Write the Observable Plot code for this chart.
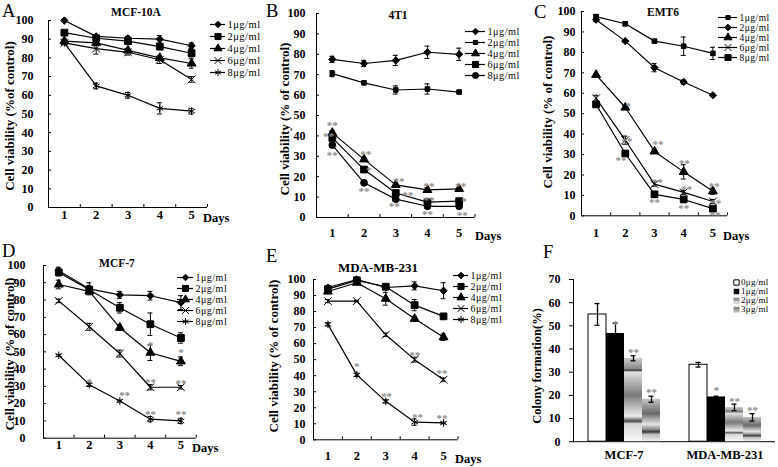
<!DOCTYPE html>
<html><head><meta charset="utf-8">
<script src="https://cdn.jsdelivr.net/npm/d3@7"></script>
<script src="https://cdn.jsdelivr.net/npm/@observablehq/plot@0.6"></script>
<style>
body{margin:0;background:#fff;}
#fig{position:relative;width:778px;height:467px;overflow:hidden;background:#fff;}
</style></head><body><div id="fig"></div>
<script>
// ---------- DATA ----------
const days = [1, 2, 3, 4, 5];
const dayBoundaries = [1.5, 2.5, 3.5, 4.5, 5.5];
const doseLabels = ["1μg/ml", "2μg/ml", "4μg/ml", "6μg/ml", "8μg/ml"];
const viabilityTicks = [0, 10, 20, 30, 40, 50, 60, 70, 80, 90, 100];

// A: MCF-10A
const mcf10a_1 = [100, 91.5, 90.5, 90, 86.5];
const mcf10a_2 = [93.5, 90.5, 89, 86, 82.5];
const mcf10a_4 = [89, 88, 84, 80, 77];
const mcf10a_6 = [88, 85, 83, 79, 68.5];
const mcf10a_8 = [88, 65, 60, 53, 51.5];
const mcf10a_1e = [0.5, 1, 1, 2, 1.5];
const mcf10a_2e = [0.5, 1, 1, 1, 2];
const mcf10a_4e = [1, 1, 1, 1, 2.5];
const mcf10a_6e = [1, 3, 1.5, 2, 1.5];
const mcf10a_8e = [0.5, 1.5, 1.5, 3, 1.5];

// B: 4T1
const t41_1 = [77.5, 75.5, 77, 81, 80];
const t41_2 = [70.5, 66, 62.5, 63, 61.5];
const t41_4 = [41.5, 28.5, 16, 13.5, 14];
const t41_6 = [39, 23.5, 12, 7.5, 8];
const t41_8 = [35.5, 17, 9, 5.5, 5.5];
const t41_1e = [1.5, 1.5, 2.5, 3, 3];
const t41_2e = [1.5, 0.5, 2, 2.5, 0.5];
const t41_4e = [1, 1, 1, 1, 0.5];
const t41_6e = [1, 1, 1, 1, 1];
const t41_8e = [1, 1, 1, 1, 1];
const t41_stars = [[1, 46.5, "**"], [0.88, 41, "**"], [1, 31.5, "**"], [2.05, 32, "**"], [2.15, 24.5, "*"], [2, 14, "**"],
  [3.1, 19, "**"], [3.38, 12, "**"], [2.95, 6.5, "**"], [4.05, 16.5, "**"], [4.05, 9.5, "**"], [4, 2.5, "**"],
  [5.05, 16.5, "**"], [5.15, 9, "*"], [5.1, 2, "**"]];

// C: EMT6
const emt6_1 = [97.5, 94, 85.5, 83, 79.5];
const emt6_2 = [96, 85.5, 72.5, 65.5, 59];
const emt6_4 = [69, 53, 31.5, 21.5, 12];
const emt6_6 = [57.5, 37, 15.5, 11.5, 7];
const emt6_8 = [54.5, 30.5, 10.5, 8, 3.5];
const emt6_1e = [1, 1, 0.5, 4.5, 3];
const emt6_2e = [1, 0.5, 2, 1, 0.5];
const emt6_4e = [0.5, 1, 1, 3.5, 1.5];
const emt6_6e = [1.5, 2, 1, 1, 1];
const emt6_8e = [1, 1, 1, 1, 1];
const emt6_stars = [[2.1, 54.6, "*"], [2.06, 37.8, "**"], [1.85, 28.5, "**"], [3.12, 36.2, "**"], [3.1, 17.5, "**"], [3, 7.7, "**"],
  [4.02, 26.8, "**"], [4.1, 14.2, "**"], [4, 4.9, "**"], [5.05, 15.8, "**"], [5.1, 7.3, "**"], [5.08, 1.6, "**"]];

// D: MCF-7
const mcf7_1 = [97, 86.5, 83, 82.5, 78.5];
const mcf7_2 = [96, 86, 75.5, 66, 58];
const mcf7_4 = [89, 85, 64, 49.5, 44.5];
const mcf7_6 = [79.5, 64.5, 49, 29.5, 29.5];
const mcf7_8 = [48, 31, 21.5, 11, 10];
const mcf7_1e = [2, 3.5, 2, 2.5, 4];
const mcf7_2e = [2, 2.5, 3, 6.5, 3];
const mcf7_4e = [2.5, 1, 1.5, 4.5, 2.5];
const mcf7_6e = [1, 2, 2, 1.5, 1];
const mcf7_8e = [0.5, 1, 0.5, 1.5, 1.5];
const mcf7_stars = [[2, 34, "*"], [3.15, 26.3, "**"], [4, 55.2, "*"], [4, 34, "**"], [4, 15, "**"],
  [5, 50.8, "*"], [5, 33, "**"], [5, 15, "**"]];

// E: MDA-MB-231
const mda_1 = [95, 100, 95, 96, 93];
const mda_2 = [94, 99.5, 95.5, 84, 77];
const mda_4 = [92.5, 98, 88, 75.5, 64];
const mda_6 = [86.5, 86.5, 65.5, 50, 37.5];
const mda_8 = [72, 40.5, 24, 11, 10.5];
const mda_1e = [1, 1, 1, 2.5, 5];
const mda_2e = [1, 0.5, 1, 3.5, 0.5];
const mda_4e = [1, 1, 4, 1.5, 2];
const mda_6e = [1, 0.5, 1, 1.5, 1];
const mda_8e = [1, 1, 1, 2, 0.5];
const mda_stars = [[2, 47, "*"], [3.03, 28.3, "**"], [4, 54.3, "**"], [4.1, 15.6, "**"], [4.95, 43, "**"], [4.95, 14.8, "**"]];

// F: colony formation
const colonyLines = ["MCF-7", "MDA-MB-231"];
const colonyDoses = ["0μg/ml", "1μg/ml", "2μg/ml", "3μg/ml"];
const colonyMCF7 = [54.9, 46.7, 36, 18.3];
const colonyMCF7Err = [4.7, 4.5, 1.1, 1.3];
const colonyMDA = [33.2, 19.3, 14.8, 10.5];
const colonyMDAErr = [1, 0.3, 1.4, 1.6];
const colonyTicks = [0, 10, 20, 30, 40, 50, 60, 70];
const colonyStars = [["MCF-7", "1μg/ml", 51.5, "*"], ["MCF-7", "2μg/ml", 39.5, "**"], ["MCF-7", "3μg/ml", 22.3, "**"],
  ["MDA-MB-231", "1μg/ml", 23, "*"], ["MDA-MB-231", "2μg/ml", 18.5, "**"], ["MDA-MB-231", "3μg/ml", 14.5, "**"]];

// ---------- STYLES ----------
const SERIF = "'Liberation Serif','Times New Roman',Times,serif";
const diamondSym = {draw(c, size) { const h = Math.sqrt(size / 2); c.moveTo(0, -h); c.lineTo(h, 0); c.lineTo(0, h); c.lineTo(-h, 0); c.closePath(); }};
const MARK = {
  diamond: {symbol: diamondSym, r: 2.9},
  square: {symbol: "square", r: 3.8},
  smallSquare: {symbol: "square", r: 2.6},
  triangle: {symbol: "triangle", r: 3.3},
  cross: {symbol: "times", r: 3.6},
  star: {symbol: "asterisk", r: 3.6},
  circle: {symbol: "circle", r: 3.4}
};
const fig = document.getElementById("fig");
function place(node, x, y) {
  node.style.position = "absolute"; node.style.left = x + "px"; node.style.top = y + "px";
  node.style.maxWidth = "none";
  node.style.width = node.getAttribute("width") + "px"; node.style.height = node.getAttribute("height") + "px";
  fig.appendChild(node);
}

// ---------- LINE PANELS ----------
function linePanel(p) {
  const mL = 45, mR = 10, mT = 10, mB = 30;
  const fw = p.right - p.left, fh = p.y0 - p.y100;
  const cap = 2.5 / (fw / 5);
  const marks = [
    Plot.ruleX([0.5], {stroke: "#000", strokeWidth: 1}),
    Plot.ruleY([0], {stroke: "#000", strokeWidth: 1}),
    Plot.tickY(viabilityTicks, {y: d => d, insetRight: fw - 3, stroke: "#000"}),
    Plot.tickX(dayBoundaries, {x: d => d, insetTop: fh - 3, stroke: "#000"}),
    Plot.text(viabilityTicks, {y: d => d, frameAnchor: "left", dx: -p.labelGap, textAnchor: "end", text: d => String(d), fontSize: 12, fontWeight: "bold"}),
    Plot.text(days, {x: d => d, frameAnchor: "bottom", dy: p.xLabelDy, text: d => String(d), fontSize: 12.5, fontWeight: "bold"})
  ];
  p.series.forEach(s => {
    const rows = days.map((d, j) => ({day: d, v: s.values[j], e: s.err[j]}));
    marks.push(Plot.line(rows, {x: "day", y: "v", stroke: "#000", strokeWidth: 1.2}));
    marks.push(Plot.ruleX(rows, {x: "day", y1: d => d.v - d.e, y2: d => d.v + d.e, stroke: "#000", strokeWidth: 1}));
    marks.push(Plot.ruleY(rows, {y: d => d.v + d.e, x1: d => d.day - cap, x2: d => d.day + cap, stroke: "#000", strokeWidth: 1}));
    marks.push(Plot.ruleY(rows, {y: d => d.v - d.e, x1: d => d.day - cap, x2: d => d.day + cap, stroke: "#000", strokeWidth: 1}));
    marks.push(Plot.dot(rows, {x: "day", y: "v", symbol: s.mark.symbol, r: s.mark.r, fill: "#000", stroke: "#000", strokeWidth: 1}));
  });
  if (p.stars) marks.push(Plot.text(p.stars, {x: d => d[0], y: d => d[1], text: d => d[2], fill: "#8a8a8a", fontSize: 11, fontWeight: "bold", dy: 2.5}));
  const svg = Plot.plot({
    width: fw + mL + mR, height: fh + mT + mB,
    marginLeft: mL, marginRight: mR, marginTop: mT, marginBottom: mB,
    x: {domain: [0.5, 5.5], axis: null},
    y: {domain: [0, 100], axis: null},
    style: {fontFamily: SERIF, background: "none", overflow: "visible"},
    marks
  });
  place(svg, p.left - mL, p.y100 - mT);
}

function legendPanel(p) {
  const n = p.labels.length, W = 70, H = (n - 1) * p.spacing + 12;
  const marks = [];
  p.labels.forEach((lab, i) => {
    const row = [lab];
    marks.push(Plot.ruleY(row, {y: d => d, x1: 0, x2: p.lineLen, stroke: "#000", strokeWidth: 1.2}));
    const m = p.marks[i];
    marks.push(Plot.dot(row, {x: p.lineLen / 2, y: d => d, symbol: m.symbol, r: m.r * 0.9, fill: "#000", stroke: "#000", strokeWidth: 1}));
  });
  marks.push(Plot.text(p.labels, {x: p.lineLen + 2, y: d => d, text: d => d, textAnchor: "start", fontSize: p.fontSize}));
  const svg = Plot.plot({
    width: W, height: H, margin: 0,
    x: {domain: [0, W], range: [0, W], axis: null},
    y: {type: "point", domain: p.labels, range: [6, 6 + (n - 1) * p.spacing], padding: 0, axis: null},
    style: {fontFamily: SERIF, background: "none", overflow: "visible", letterSpacing: "0.5px"},
    marks
  });
  place(svg, p.x, p.y - 6);
}

const std = [MARK.diamond, MARK.square, MARK.triangle, MARK.cross, MARK.star];
const markB = [MARK.diamond, MARK.smallSquare, MARK.triangle, MARK.square, MARK.circle];
const markC = [MARK.smallSquare, MARK.diamond, MARK.triangle, MARK.cross, MARK.square];
const mk = (vals, errs, marks) => vals.map((v, i) => ({values: v, err: errs[i], mark: marks[i]}));

linePanel({left: 48, right: 207, y100: 20, y0: 207, labelGap: 15, xLabelDy: 11,
  series: mk([mcf10a_1, mcf10a_2, mcf10a_4, mcf10a_6, mcf10a_8], [mcf10a_1e, mcf10a_2e, mcf10a_4e, mcf10a_6e, mcf10a_8e], std)});
linePanel({left: 316, right: 474.5, y100: 13, y0: 217, labelGap: 11, xLabelDy: 19, stars: t41_stars,
  series: mk([t41_1, t41_2, t41_4, t41_6, t41_8], [t41_1e, t41_2e, t41_4e, t41_6e, t41_8e], markB)});
linePanel({left: 581, right: 727, y100: 10.7, y0: 215, labelGap: 6, xLabelDy: 21, stars: emt6_stars,
  series: mk([emt6_1, emt6_2, emt6_4, emt6_6, emt6_8], [emt6_1e, emt6_2e, emt6_4e, emt6_6e, emt6_8e], markC)});
linePanel({left: 43.3, right: 196, y100: 265, y0: 437.7, labelGap: 18, xLabelDy: 10.5, stars: mcf7_stars,
  series: mk([mcf7_1, mcf7_2, mcf7_4, mcf7_6, mcf7_8], [mcf7_1e, mcf7_2e, mcf7_4e, mcf7_6e, mcf7_8e], std)});
linePanel({left: 312.5, right: 457, y100: 279, y0: 439.3, labelGap: 8, xLabelDy: 20, stars: mda_stars,
  series: mk([mda_1, mda_2, mda_4, mda_6, mda_8], [mda_1e, mda_2e, mda_4e, mda_6e, mda_8e], std)});

legendPanel({x: 210, y: 24.3, spacing: 12.1, lineLen: 15, fontSize: 10.5, labels: doseLabels, marks: std});
legendPanel({x: 465, y: 30, spacing: 11.5, lineLen: 20, fontSize: 10.2, labels: doseLabels, marks: markB});
legendPanel({x: 718, y: 16, spacing: 10.6, lineLen: 19, fontSize: 9.5, labels: doseLabels, marks: markC});
legendPanel({x: 177, y: 277, spacing: 11.2, lineLen: 16, fontSize: 10, labels: doseLabels, marks: std});
legendPanel({x: 453, y: 275, spacing: 11.2, lineLen: 15, fontSize: 10, labels: doseLabels, marks: std});

// ---------- BAR PANEL F ----------
(function () {
  const fL = 573, fR = 775, f70 = 278.5, f0 = 440.7;
  const mL = 45, mR = 3, mT = 10, mB = 30;
  const values = [colonyMCF7, colonyMDA], errs = [colonyMCF7Err, colonyMDAErr];
  const rows = [];
  colonyLines.forEach((line, i) => colonyDoses.forEach((dose, k) => rows.push({line, dose, v: values[i][k], e: errs[i][k]})));
  const fills = ["#fff", "#000", "url(#colonyG2)", "url(#colonyG3)"];
  const marks = [Plot.ruleY([0], {stroke: "#000"})];
  colonyDoses.forEach((dose, k) => {
    marks.push(Plot.barY(rows.filter(r => r.dose === dose), {fx: "line", x: "dose", y: "v", fill: fills[k], stroke: k === 0 ? "#000" : "none", strokeWidth: 1}));
  });
  marks.push(Plot.ruleX(rows, {fx: "line", x: "dose", y1: d => d.v - d.e, y2: d => d.v + d.e, stroke: "#000", strokeWidth: 1.3}));
  marks.push(Plot.tickY(rows, {fx: "line", x: "dose", y: d => d.v + d.e, insetLeft: 6.5, insetRight: 6.5, stroke: "#000", strokeWidth: 1.3}));
  marks.push(Plot.tickY(rows, {fx: "line", x: "dose", y: d => d.v - d.e, insetLeft: 6.5, insetRight: 6.5, stroke: "#000", strokeWidth: 1.3}));
  marks.push(Plot.text(colonyStars, {fx: d => d[0], x: d => d[1], y: d => d[2], text: d => d[3], fill: "#8a8a8a", fontSize: 11, fontWeight: "bold", dy: 2.5}));
  marks.push(Plot.text(colonyLines, {fx: d => d, frameAnchor: "bottom", dy: 17.5, text: d => d, fontSize: 12.5, fontWeight: "bold"}));
  const svg = Plot.plot({
    width: (fR - fL) + mL + mR, height: (f0 - f70) + mT + mB,
    marginLeft: mL, marginRight: mR, marginTop: mT, marginBottom: mB,
    fx: {domain: colonyLines, padding: 0, axis: null, label: null},
    x: {domain: colonyDoses, paddingInner: 0, paddingOuter: 0.66, axis: null},
    y: {domain: [0, 70], ticks: colonyTicks, tickSize: 4, tickPadding: 9, line: true, label: null, tickFormat: d => String(d)},
    style: {fontFamily: SERIF, fontSize: "12px", fontWeight: "bold", background: "none", overflow: "visible"},
    marks
  });
  const defs = d3.select(svg).insert("defs", ":first-child");
  function grad(id, stops) {
    const g = defs.append("linearGradient").attr("id", id).attr("x1", 0).attr("y1", 0).attr("x2", 0).attr("y2", 1);
    stops.forEach(([o, c]) => g.append("stop").attr("offset", o).attr("stop-color", c));
  }
  grad("colonyG2", [[0, "#cfcfcf"], [0.13, "#8a8a8a"], [0.15, "#3c3c3c"], [0.17, "#e2e2e2"], [0.45, "#7a7a7a"], [0.7, "#ececec"], [0.76, "#4a4a4a"], [0.79, "#d4d4d4"], [1, "#fafafa"]]);
  grad("colonyG3", [[0, "#c4c4c4"], [0.35, "#6a6a6a"], [0.6, "#e4e4e4"], [0.72, "#8a8a8a"], [0.78, "#3a3a3a"], [0.84, "#bdbdbd"], [1, "#eeeeee"]]);
  place(svg, fL - mL, f70 - mT);

  // legend for F
  const lg = Plot.plot({
    width: 50, height: 40, margin: 0,
    x: {domain: [0, 50], range: [0, 50], axis: null},
    y: {type: "point", domain: colonyDoses, range: [5, 5 + 3 * 9.5], padding: 0, axis: null},
    style: {fontFamily: SERIF, background: "none", overflow: "visible", letterSpacing: "0.3px"},
    marks: colonyDoses.map((d, k) => Plot.dot([d], {x: 3, y: v => v, symbol: "square", r: 3, fill: fills[k], stroke: k === 0 ? "#000" : "#555", strokeWidth: k === 0 ? 1 : 0.3}))
      .concat([Plot.text(colonyDoses, {x: 7.5, y: d => d, text: d => d, textAnchor: "start", fontSize: 9})])
  });
  place(lg, 733, 276);
})();

// ---------- TEXT OVERLAY ----------
const ov = d3.create("svg").attr("width", 778).attr("height", 467)
  .style("position", "absolute").style("left", "0px").style("top", "0px").style("pointer-events", "none")
  .attr("font-family", SERIF);
const letters = [["A", 2, 17], ["B", 266, 16.5], ["C", 534, 18], ["D", 2, 257], ["E", 266, 262], ["F", 543, 258]];
ov.selectAll("text.l").data(letters).join("text").attr("x", d => d[1]).attr("y", d => d[2]).attr("font-size", 18.5).text(d => d[0]);
const titles = [["MCF-10A", 136, 16, 11.5], ["4T1", 398, 19, 11.5], ["EMT6", 663, 16, 11.5], ["MCF-7", 117, 267, 11.5], ["MDA-MB-231", 378, 272, 13]];
ov.selectAll("text.t").data(titles).join("text").attr("x", d => d[1]).attr("y", d => d[2]).attr("font-size", d => d[3])
  .attr("font-weight", "bold").attr("text-anchor", "middle").text(d => d[0]);
const daysLabels = [[203, 222], [475, 240], [723, 240], [192, 452], [455, 463]];
ov.selectAll("text.d").data(daysLabels).join("text").attr("x", d => d[0]).attr("y", d => d[1]).attr("font-size", 12.5)
  .attr("font-weight", "bold").text("Days");
const ylabels = [["Cell viability (%of control)", 9, 116, 13], ["Cell viability (% of control)", 284, 119, 13], ["Cell viability (% of control)", 547, 112, 13],
  ["Cell viability (% of control)", 9, 354, 13], ["Cell viability (% of control)", 273, 356, 13], ["Colony formation(%)", 537, 366, 12.5]];
ov.selectAll("text.y").data(ylabels).join("text").attr("transform", d => `translate(${d[1]},${d[2]}) rotate(-90)`)
  .attr("font-size", d => d[3]).attr("font-weight", "bold").attr("text-anchor", "middle").attr("dominant-baseline", "central").text(d => d[0]);
fig.appendChild(ov.node());
</script></body></html>
